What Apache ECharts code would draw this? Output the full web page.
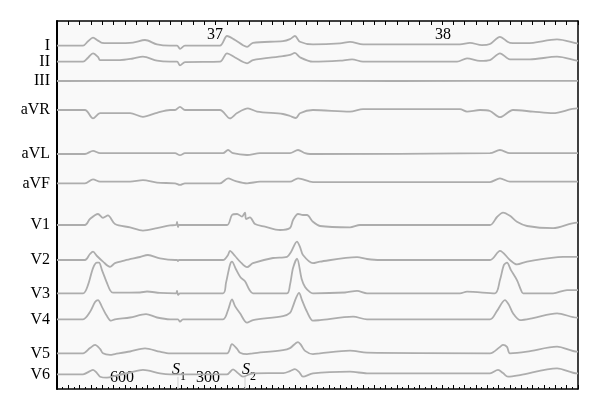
<!DOCTYPE html>
<html><head><meta charset="utf-8">
<script src="https://cdn.jsdelivr.net/npm/echarts@6/dist/echarts.min.js"></script>
<style>html,body{margin:0;padding:0;background:#fff}#c{width:600px;height:410px}</style>
</head><body><div id="c"></div>
<script>
// ---- data (time in ms, amplitude in mV) ----
const leadNames = ['I','II','III','aVR','aVL','aVF','V1','V2','V3','V4','V5','V6'];
const timeMax = 4600;
const leadI = [[0,0],[230,0],[274,0.11],[318,0.2],[362,0.125],[397,0.07],[512,0.06],[671,0.075],[777,0.14],[883,0.03],[998,0],[1060,0],[1086,-0.08],[1130,0],[1439,0],[1501,0.24],[1572,0.14],[1642,0.01],[1678,-0.03],[1730,0.07],[1995,0.11],[2057,0.16],[2101,0.24],[2145,0.095],[2260,0.03],[2499,0.055],[2587,0.095],[2702,0.03],[3558,0.03],[3646,0.07],[3752,0.01],[3823,0.04],[3911,0.22],[3999,0.07],[4150,0.06],[4415,0.155],[4591,0.055],[4600,0.05]];
const leadII = [[0,0],[230,0],[274,0.1],[318,0.21],[362,0.12],[380,0.04],[556,0.04],[671,0.08],[759,0.125],[883,0.025],[998,0],[1060,0],[1086,-0.09],[1130,-0.01],[1439,0],[1501,0.21],[1572,0.105],[1678,-0.04],[1730,0.04],[1995,0.14],[2057,0.17],[2101,0.22],[2145,0.11],[2260,0],[2499,0.025],[2605,0.06],[2702,0],[3532,0],[3620,0.085],[3735,0.02],[3823,0.04],[3911,0.21],[3999,0.06],[4176,0.06],[4415,0.125],[4591,0.025],[4600,0.02]];
const leadIII = [[0,0],[1500,0.005],[3000,0],[4600,0.005]];
const leadAVR = [[0,0],[247,0],[318,-0.21],[380,-0.08],[645,-0.08],[759,-0.17],[883,-0.07],[998,0],[1042,0],[1086,0.08],[1130,0],[1439,0],[1527,-0.21],[1590,-0.075],[1686,0.04],[1766,-0.04],[1995,-0.1],[2057,-0.15],[2110,-0.2],[2145,-0.08],[2260,0],[2587,-0.04],[2702,0.02],[3558,0.02],[3620,-0.04],[3735,0],[3823,-0.025],[3911,-0.18],[4026,0],[4203,-0.04],[4380,-0.08],[4591,0.04],[4600,0.04]];
const leadAVL = [[0,0],[247,0],[318,0.08],[380,0.02],[1042,0.02],[1086,-0.03],[1130,0.02],[1466,0.02],[1510,0.1],[1554,0.02],[1678,-0.025],[1792,0.02],[2057,0.02],[2128,0.1],[2190,0.02],[2234,0],[3823,0.02],[3911,0.1],[3999,0.02],[4600,0.02]];
const leadAVF = [[0,0],[247,0],[318,0.1],[380,0.04],[645,0.04],[759,0.08],[883,0.015],[1042,0],[1086,-0.04],[1130,0],[1439,0],[1510,0.125],[1572,0.06],[1678,0],[1792,0.04],[2057,0.04],[2128,0.125],[2260,0.03],[3823,0.03],[3911,0.125],[3999,0.04],[4600,0.04]];
const leadV1 = [[0,0],[247,0],[291,0.15],[362,0.275],[406,0.18],[450,0.24],[512,0.025],[645,-0.06],[759,-0.14],[883,-0.08],[998,-0.01],[1051,0],[1060,0.075],[1068,-0.05],[1077,0],[1501,0],[1545,0.25],[1590,0.275],[1633,0.21],[1660,0.31],[1669,0.15],[1704,0.19],[1748,0.025],[1836,-0.04],[1969,-0.125],[2057,-0.075],[2084,0.125],[2128,0.275],[2172,0.25],[2207,0.25],[2260,0.08],[2322,-0.025],[2587,-0.06],[2675,0],[3823,0],[3885,0.2],[3938,0.31],[3999,0.23],[4061,0.08],[4150,-0.025],[4380,-0.08],[4591,0.06],[4600,0.06]];
const leadV2 = [[0,0],[247,0],[291,0.15],[318,0.21],[353,0.1],[406,-0.04],[468,-0.17],[512,-0.08],[600,-0.01],[733,0.075],[803,0.125],[909,0.04],[1042,0],[1060,0],[1068,-0.03],[1077,0],[1466,0],[1510,0.125],[1527,0.23],[1572,0.1],[1616,-0.04],[1678,-0.18],[1730,-0.08],[1907,0.05],[2031,0.08],[2066,0.2],[2119,0.46],[2145,0.33],[2172,0.125],[2260,-0.08],[2322,-0.04],[2649,0.07],[2737,0.025],[2852,0],[3823,0],[3911,0.23],[3999,0],[4061,-0.11],[4150,-0.04],[4468,0.08],[4600,0.08]];
const leadV3 = [[0,0],[230,0],[274,0.21],[318,0.63],[353,0.765],[371,0.765],[397,0.58],[441,0.26],[468,0.08],[494,0.015],[733,0.02],[795,0.045],[909,0.01],[1051,0],[1060,0.06],[1068,-0.04],[1086,0],[1466,0],[1492,0.26],[1527,0.71],[1545,0.79],[1580,0.6],[1620,0.4],[1660,0.3],[1700,0.08],[1730,0],[2031,0],[2057,0.21],[2084,0.63],[2119,0.865],[2160,0.36],[2190,0.16],[2234,0.03],[2260,0],[2543,0.02],[2649,0.06],[2737,0],[3558,0],[3620,0.04],[3867,0],[3911,0.33],[3946,0.71],[3973,0.765],[4008,0.58],[4061,0.33],[4097,0.08],[4115,0],[4380,0],[4503,0.08],[4600,0.08]];
const leadV4 = [[0,0],[230,0],[291,0.18],[336,0.43],[362,0.48],[397,0.31],[441,0.08],[477,-0.035],[512,0],[645,0.045],[786,0.13],[883,0.045],[998,0],[1068,0],[1086,-0.06],[1112,0],[1466,0],[1510,0.23],[1545,0.5],[1572,0.33],[1616,0.15],[1678,-0.085],[1730,-0.02],[1995,0.08],[2057,0.16],[2084,0.33],[2110,0.53],[2137,0.66],[2163,0.48],[2207,0.19],[2260,-0.035],[2322,-0.02],[2614,0.065],[2737,0],[3823,0],[3885,0.21],[3955,0.48],[3990,0.36],[4026,0.15],[4088,-0.02],[4203,0.03],[4415,0.15],[4591,0.04],[4600,0.04]];
const leadV5 = [[0,0],[230,0],[291,0.13],[336,0.21],[380,0.11],[406,0],[468,-0.04],[512,-0.02],[645,0.045],[777,0.125],[909,0.04],[998,0],[1501,0],[1545,0.23],[1590,0.11],[1616,0.015],[1678,-0.02],[1730,0],[1995,0.08],[2057,0.13],[2128,0.28],[2154,0.21],[2190,0.06],[2260,-0.02],[2322,0],[2587,0.065],[2737,0.015],[3823,0],[3911,0.16],[3938,0.21],[3973,0.16],[3999,0],[4150,0.04],[4415,0.165],[4591,0.04],[4600,0.04]];
const leadV6 = [[0,0],[230,0],[291,0.08],[318,0.11],[353,0.03],[380,-0.06],[441,-0.085],[512,-0.04],[645,0.045],[759,0.11],[909,0.025],[998,0],[1501,0],[1554,0.125],[1598,0.03],[1642,-0.06],[1730,0.025],[2000,0.03],[2057,0.08],[2101,0.13],[2137,0.06],[2172,-0.06],[2260,0.025],[2587,0.065],[2737,0.025],[3823,0.025],[3894,0.11],[3938,0.03],[3982,-0.06],[4088,-0.02],[4415,0.15],[4591,0.025],[4600,0.025]];
const leadData = [leadI, leadII, leadIII, leadAVR, leadAVL, leadAVF, leadV1, leadV2, leadV3, leadV4, leadV5, leadV6];
const stimTimes = [1068, 1660];
const stimMarkHeight = [0.033, 0.033];
const beatNumbers = ['37', '38'];
const couplingLabels = ['600', '300'];
const stimLabels = ['S', 'S'];
const stimIndex = ['1', '2'];

// ---- layout / style ----
const L = 57, R = 22, T = 21, B = 21;
const rowY = [45.6, 61.7, 81, 110, 154, 183.3, 225, 260, 293.3, 319.3, 353.3, 374.3];
const pxPerUnit = 40, span = 0.75;
const traceColor = '#adadad';
const serif = "'Liberation Serif','DejaVu Serif',serif";

const chart = echarts.init(document.getElementById('c'), null, {renderer: 'canvas'});

const grids = [{left: L, right: R, top: T, bottom: B, show: true, backgroundColor: '#f9f9f9', borderWidth: 0}];
const xAxes = [
  {gridIndex: 0, type: 'value', min: 0, max: timeMax, interval: 100, position: 'bottom',
   axisLine: {show: true, onZero: false, lineStyle: {color: '#000', width: 1.5}},
   axisTick: {show: true, inside: true, length: 4, lineStyle: {color: '#000', width: 1}},
   minorTick: {show: true, splitNumber: 2, length: 2, lineStyle: {color: '#000', width: 1}},
   axisLabel: {show: false}, splitLine: {show: false}},
  {gridIndex: 0, type: 'value', min: 0, max: timeMax, interval: 100, position: 'top',
   axisLine: {show: true, onZero: false, lineStyle: {color: '#000', width: 1.5}},
   axisTick: {show: true, inside: true, length: 4, lineStyle: {color: '#000', width: 1}},
   axisLabel: {show: false}, splitLine: {show: false}}
];
const yAxes = [
  {gridIndex: 0, type: 'value', min: 0, max: 1, position: 'left',
   axisLine: {show: true, onZero: false, lineStyle: {color: '#000', width: 2}}, axisTick: {show: false},
   axisLabel: {show: false}, splitLine: {show: false}},
  {gridIndex: 0, type: 'value', min: 0, max: 1, position: 'right',
   axisLine: {show: true, onZero: false, lineStyle: {color: '#000', width: 1.5}}, axisTick: {show: false},
   axisLabel: {show: false}, splitLine: {show: false}}
];
const series = [{
  type: 'bar', xAxisIndex: 0, yAxisIndex: 0, barWidth: 1, silent: true,
  itemStyle: {color: '#cfcfcf'},
  data: stimTimes.map((t, i) => [t, stimMarkHeight[i]])
}];

leadNames.forEach((name, i) => {
  const h = 2 * span * pxPerUnit;
  grids.push({left: L, right: R, top: rowY[i] - h / 2, height: h, show: false});
  xAxes.push({gridIndex: i + 1, type: 'value', min: 0, max: timeMax, show: false});
  yAxes.push({gridIndex: i + 1, type: 'value', min: -span, max: span, interval: span,
    axisLine: {show: false}, axisTick: {show: false}, splitLine: {show: false},
    axisLabel: {show: true, margin: 7, color: '#000', fontFamily: serif, fontSize: 16,
      formatter: v => Math.abs(v) < 1e-9 ? name : ''}});
  series.push({type: 'line', xAxisIndex: i + 2, yAxisIndex: i + 2, data: leadData[i],
    showSymbol: false, smooth: 0.3, clip: false, silent: true,
    lineStyle: {color: traceColor, width: 1.8}});
});

const txt = (x, y, text, size, extra) => Object.assign({type: 'text', x, y, silent: true,
  style: Object.assign({text, fill: '#000', font: size + 'px ' + serif, align: 'center', verticalAlign: 'middle'}, extra || {})});

const graphic = [
  txt(215, 35, beatNumbers[0], 16),
  txt(443, 35, beatNumbers[1], 16),
  txt(122, 378, couplingLabels[0], 16),
  txt(208, 378, couplingLabels[1], 16),
  txt(176, 370, stimLabels[0], 16, {font: 'italic 16px ' + serif}),
  txt(183, 377, stimIndex[0], 12),
  txt(246, 370, stimLabels[1], 16, {font: 'italic 16px ' + serif}),
  txt(253, 377, stimIndex[1], 12)
];

chart.setOption({
  animation: false,
  backgroundColor: '#ffffff',
  grid: grids, xAxis: xAxes, yAxis: yAxes, series, graphic
});
</script>
</body></html>
